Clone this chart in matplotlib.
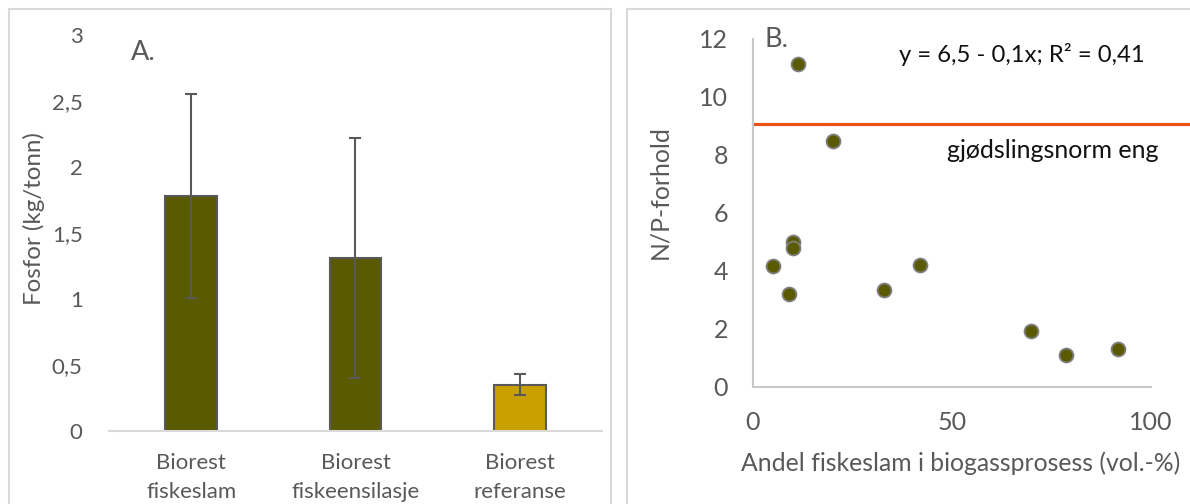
import matplotlib
matplotlib.use("Agg")
import matplotlib.pyplot as plt
from matplotlib.patches import Rectangle

# Panel A: phosphorus content in digestate
categories = ["Biorest\nfiskeslam", "Biorest\nfiskeensilasje", "Biorest\nreferanse"]
fosfor = [1.78, 1.31, 0.35]
fosfor_err = [0.77, 0.91, 0.08]
bar_colors = ["#5a5a00", "#5a5a00", "#c9a000"]
yticks_a = [0, 0.5, 1, 1.5, 2, 2.5, 3]
yticklabels_a = ["0", "0,5", "1", "1,5", "2", "2,5", "3"]

# Panel B: N/P ratio vs share of fish sludge
andel = [11.2, 20.1, 9.95, 9.95, 4.9, 9.1, 32.9, 41.9, 69.8, 78.7, 91.8]
np_forhold = [11.13, 8.48, 4.98, 4.78, 4.15, 3.2, 3.33, 4.2, 1.91, 1.09, 1.30]
norm_eng = 9.08
xticks_b = [0, 50, 100]
yticks_b = [0, 2, 4, 6, 8, 10, 12]

W, H = 1190, 504
plt.rcParams["font.family"] = ["Lato", "DejaVu Sans"]
GREY = "#595959"

fig = plt.figure(figsize=(W / 100, H / 100), dpi=100)


def fx(px):
    return px / W


def fy(py):
    return 1 - py / H


# panel frames
for x0, x1 in [(9, 611), (627, 1210)]:
    fig.patches.append(Rectangle((fx(x0), fy(520)), fx(x1) - fx(x0), fy(9) - fy(520),
                                 transform=fig.transFigure, fill=False,
                                 edgecolor="#d9d9d9", linewidth=1.5, clip_on=False))

# ---------- Panel A ----------
axA = fig.add_axes([fx(109), fy(431), fx(602) - fx(109), fy(35) - fy(431)])
xpos = list(range(len(categories)))
axA.bar(xpos, fosfor, width=0.316, color=bar_colors, edgecolor=GREY, linewidth=1.5, zorder=2)
axA.errorbar(xpos, fosfor, yerr=fosfor_err, fmt="none", ecolor=GREY, elinewidth=1.5,
             capsize=4.3, capthick=1.5, zorder=3)
axA.set_xlim(-0.5, 2.5)
axA.set_ylim(0, 3)
axA.set_yticks(yticks_a)
axA.set_yticklabels(yticklabels_a)
axA.set_xticks(xpos)
axA.set_xticklabels(categories, linespacing=1.55)
for s in ["top", "right", "left"]:
    axA.spines[s].set_visible(False)
axA.spines["bottom"].set_color("#d9d9d9")
axA.spines["bottom"].set_linewidth(1.5)
axA.tick_params(axis="y", length=0, pad=19, labelsize=16, labelcolor=GREY)
axA.tick_params(axis="x", length=0, pad=16, labelsize=16, labelcolor=GREY)
fig.text(fx(34), fy(219), "Fosfor (kg/tonn)", rotation=90, ha="center", va="center",
         fontsize=17.4, color=GREY)
fig.text(fx(131), fy(52), "A.", ha="left", va="center", fontsize=19.5, color=GREY)

# ---------- Panel B ----------
axB = fig.add_axes([fx(753), fy(386.5), fx(1151) - fx(753), fy(39) - fy(386.5)])
axB.scatter(andel, np_forhold, s=100, color="#5a5a00", edgecolor="#7f7f7f", linewidth=1.3,
            zorder=3, clip_on=False)
axB.plot([0, 110], [norm_eng, norm_eng], color="#eb5216", linewidth=2.3, clip_on=False, zorder=2)
axB.set_xlim(0, 100)
axB.set_ylim(0, 12)
axB.set_xticks(xticks_b)
axB.set_yticks(yticks_b)
for s in ["top", "right"]:
    axB.spines[s].set_visible(False)
for s in ["left", "bottom"]:
    axB.spines[s].set_color("#c8c8c8")
    axB.spines[s].set_linewidth(1.5)
axB.tick_params(axis="both", length=0, labelsize=18, labelcolor=GREY)
axB.tick_params(axis="y", pad=18)
axB.tick_params(axis="x", pad=18)
fig.text(fx(660), fy(192), "N/P-forhold", rotation=90, ha="center", va="center",
         fontsize=17.8, color=GREY)
fig.text(fx(961), fy(463), "Andel fiskeslam i biogassprosess (vol.-%)", ha="center",
         va="center", fontsize=17.8, color=GREY)
fig.text(fx(764), fy(40), "B.", ha="left", va="center", fontsize=19.5, color=GREY)
fig.text(fx(899), fy(55), "y = 6,5 - 0,1x; R\u00b2 = 0,41", ha="left", va="center",
         fontsize=17.2, color="#111111")
fig.text(fx(947), fy(151), "gjødslingsnorm eng", ha="left", va="center",
         fontsize=18, color="#111111")

fig.savefig("out.png", dpi=100, facecolor="white")
